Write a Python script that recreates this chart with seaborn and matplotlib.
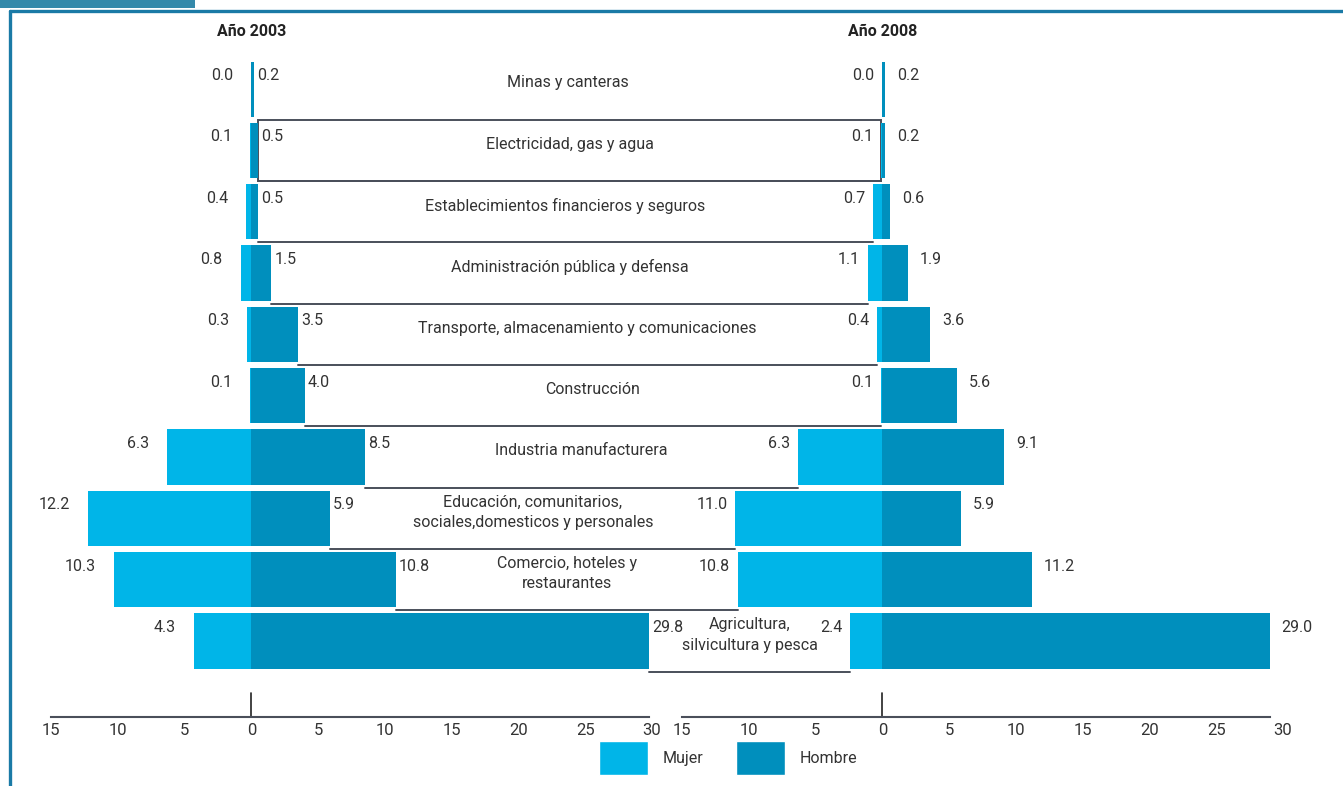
import matplotlib
matplotlib.use("Agg")
import matplotlib.pyplot as plt
from matplotlib import font_manager
from matplotlib.patches import Rectangle, Patch
from matplotlib.lines import Line2D
import pandas as pd
import seaborn as sns

# data
categorias = [
    "Minas y canteras",
    "Electricidad, gas y agua",
    "Establecimientos financieros y seguros",
    "Administración pública y defensa",
    "Transporte, almacenamiento y comunicaciones",
    "Construcción",
    "Industria manufacturera",
    "Educación, comunitarios,\nsociales,domesticos y personales",
    "Comercio, hoteles y\nrestaurantes",
    "Agricultura,\nsilvicultura y pesca",
]
mujer_2003 = [0.0, 0.1, 0.4, 0.8, 0.3, 0.1, 6.3, 12.2, 10.3, 4.3]
hombre_2003 = [0.2, 0.5, 0.5, 1.5, 3.5, 4.0, 8.5, 5.9, 10.8, 29.8]
mujer_2008 = [0.0, 0.1, 0.7, 1.1, 0.4, 0.1, 6.3, 11.0, 10.8, 2.4]
hombre_2008 = [0.2, 0.2, 0.6, 1.9, 3.6, 5.6, 9.1, 5.9, 11.2, 29.0]
anios = ["Año 2003", "Año 2008"]
ticks = [-15, -10, -5, 0, 5, 10, 15, 20, 25, 30]
tick_labels = [str(abs(t)) for t in ticks]

C_MUJER = "#00b5e8"
C_HOMBRE = "#008fbd"
C_TEXT = "#333333"
C_LINE = "#4a4f5a"
C_FRAME = "#1a7aa6"

sns.set_style("white")
installed = {f.name for f in font_manager.fontManager.ttflist}
fam = [f for f in ["Liberation Sans Narrow", "Roboto", "DejaVu Sans"] if f in installed]
plt.rcParams["font.family"] = fam
plt.rcParams["text.color"] = C_TEXT

W, H = 1343, 786
fig = plt.figure(figsize=(W / 100, H / 100), dpi=100)
fig.patch.set_facecolor("white")

ax_bottom = 1 - 717 / H
ax_height = (717 - 62) / H
ax1 = fig.add_axes([51 / W, ax_bottom, 601 / W, ax_height])
ax2 = fig.add_axes([682 / W, ax_bottom, 601 / W, ax_height])


def draw_panel(ax, mujer, hombre, titulo, gap_m, gap_h, spine_end):
    df = pd.DataFrame({"cat": categorias,
                       "mujer": [-v for v in mujer],
                       "hombre": hombre})
    sns.barplot(data=df, x="mujer", y="cat", orient="h", color=C_MUJER,
                saturation=1, width=0.9, errorbar=None, linewidth=0, ax=ax)
    sns.barplot(data=df, x="hombre", y="cat", orient="h", color=C_HOMBRE,
                saturation=1, width=0.9, errorbar=None, linewidth=0, ax=ax)
    ax.patch.set_visible(False)
    ax.set_xlim(-15, 30)
    ax.set_ylim(10.24, -0.44)
    ax.set_xlabel("")
    ax.set_ylabel("")
    ax.set_yticks([])
    for s in ["left", "top", "right"]:
        ax.spines[s].set_visible(False)
    ax.spines["bottom"].set_color(C_LINE)
    ax.spines["bottom"].set_linewidth(1.5)
    ax.spines["bottom"].set_bounds(-15, spine_end)
    ax.set_xticks(ticks)
    ax.set_xticklabels(tick_labels)
    ax.tick_params(axis="x", which="major", length=0, pad=4,
                   labelsize=12, labelcolor=C_TEXT)
    # small zero mark standing on the axis line
    ax.axvline(0, ymin=0, ymax=24 / 655, color="#222222", lw=1.2)

    for i in range(len(categorias)):
        ax.annotate(f"{mujer[i]:.1f}", xy=(-mujer[i], i - 0.22),
                    xytext=(-gap_m, 0), textcoords="offset pixels",
                    ha="right", va="center", fontsize=11.5, color=C_TEXT)
        ax.annotate(f"{hombre[i]:.1f}", xy=(hombre[i], i - 0.22),
                    xytext=(gap_h, 0), textcoords="offset pixels",
                    ha="left", va="center", fontsize=11.5, color=C_TEXT)

    ax.annotate(titulo, xy=(0, 1 - 32 / H), xycoords=("data", "figure fraction"),
                ha="center", va="center", fontsize=11.5, fontweight="bold",
                color="#222222")


draw_panel(ax1, mujer_2003, hombre_2003, anios[0], 18, 3, 29.8)
draw_panel(ax2, mujer_2008, hombre_2008, anios[1], 8, 12, 29.0)

# label lines between the two panels
to_fig = fig.transFigure.inverted()
for i, cat in enumerate(categorias):
    x0, yc = ax1.transData.transform((hombre_2003[i], i))
    x1, _ = ax2.transData.transform((-mujer_2008[i], i))
    _, ytop = ax1.transData.transform((0, i - 0.5))
    _, ybot = ax1.transData.transform((0, i + 0.5))
    (fx0, fyb), (fx1, fyt) = to_fig.transform([(x0, ybot), (x1, ytop)])
    if i > 0:
        fig.add_artist(Line2D([fx0, fx1], [fyb, fyb], transform=fig.transFigure,
                              color=C_LINE, lw=1.4, zorder=-1))
    if i == 1:
        fig.add_artist(Rectangle((fx0, fyb), fx1 - fx0, fyt - fyb,
                                 transform=fig.transFigure, fill=False,
                                 edgecolor=C_LINE, linewidth=1.4, zorder=-1))
    fxm, fyc = to_fig.transform(((x0 + x1) / 2, yc))
    fig.text(fxm, fyc + 6 / H, cat, ha="center", va="center", fontsize=11.5,
             linespacing=1.45, color=C_TEXT)

# frame decoration
fig.add_artist(Rectangle((0, 1 - 8 / H), 195 / W, 8 / H, transform=fig.transFigure,
                         color="#3489aa", lw=0))
fig.add_artist(Line2D([10 / W, 1], [1 - 10.5 / H, 1 - 10.5 / H],
                      transform=fig.transFigure, color=C_FRAME, lw=2.4))
fig.add_artist(Line2D([10 / W, 10 / W], [0, 1 - 10.5 / H],
                      transform=fig.transFigure, color=C_FRAME, lw=2.4))

handles = [Patch(facecolor=C_MUJER, label="Mujer"),
           Patch(facecolor=C_HOMBRE, label="Hombre")]
fig.legend(handles=handles, loc="center", bbox_to_anchor=(728 / W, 1 - 758 / H),
           ncol=2, frameon=False, fontsize=11.5, handlelength=3.1,
           handleheight=2.9, handletextpad=0.9, columnspacing=2.0)

fig.savefig("out.png", dpi=100)
